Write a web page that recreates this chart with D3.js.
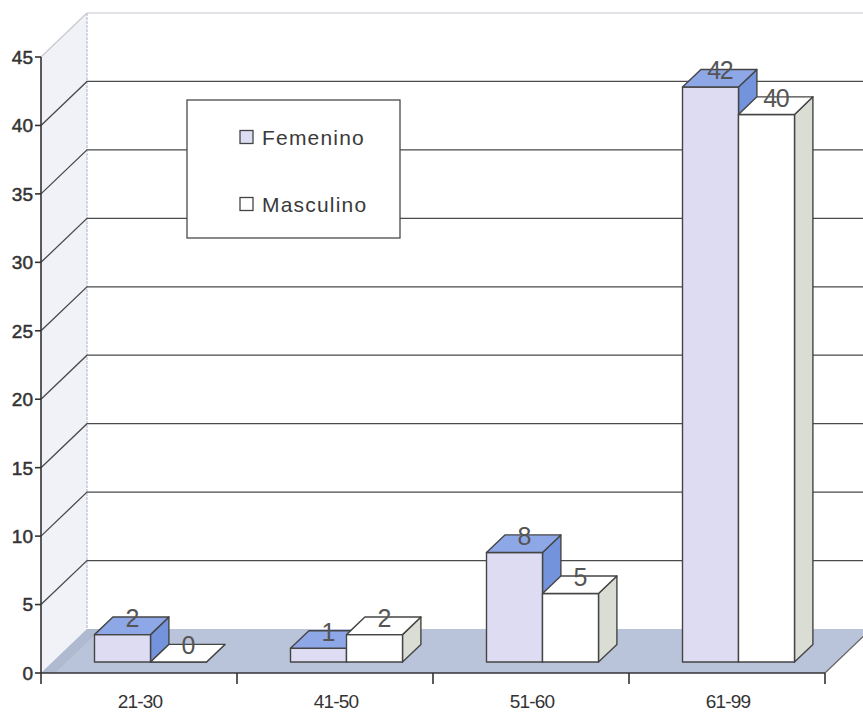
<!DOCTYPE html>
<html>
<head>
<meta charset="utf-8">
<script src="https://cdn.jsdelivr.net/npm/d3@7"></script>
<style>
  html, body { margin: 0; padding: 0; background: #fff; }
  svg { display: block; font-family: "Liberation Sans", Arial, sans-serif; }
</style>
</head>
<body>
<svg id="chart" width="863" height="712"></svg>
<script>
// Age groups and counts per sex
const categories = ["21-30", "41-50", "51-60", "61-99"];
const seriesNames = ["Femenino", "Masculino"];
const femenino = [2, 1, 8, 42];
const masculino = [0, 2, 5, 40];
const yTicks = [0, 5, 10, 15, 20, 25, 30, 35, 40, 45];

const W = 863, H = 712;
const svg = d3.select("#chart");

// Plot frame: front plane and depth offset of the 3D box
const x0 = 41, x1 = 825;
const depthX = 46, depthY = -44;
const barZ0 = 0.25, barZ1 = 0.65;

const x = d3.scaleBand().domain(categories).range([x0, x1]).paddingInner(0).paddingOuter(0);
const xs = d3.scaleBand().domain(seriesNames).range([0, x.bandwidth()]).paddingInner(0).paddingOuter(0.75);
const y = d3.scaleLinear().domain([0, 45]).range([673, 57]);

// project a front-plane point back by depth fraction z
const P = (px, py, z) => [px + z * depthX, py + z * depthY];
const poly = pts => "M" + pts.map(p => p.join(",")).join("L") + "Z";

const yMax = y(45), yZero = y(0);
const rightEdge = W + 20;
const slope = -depthY / depthX;

// back wall
svg.append("path")
  .attr("d", poly([P(x0, yMax, 1), [rightEdge, yMax + depthY], [rightEdge, yZero + depthY], P(x0, yZero, 1)]))
  .attr("fill", "#ffffff");

// left side wall
svg.append("path")
  .attr("d", poly([[x0, yMax], P(x0, yMax, 1), P(x0, yZero, 1), [x0, yZero]]))
  .attr("fill", "#f1f1f8");

// floor
svg.append("path")
  .attr("d", poly([[x0, yZero], P(x0, yZero, 1), [rightEdge, yZero + depthY], [x1 + 40, yZero - 40 * slope], [x1, yZero]]))
  .attr("fill", "#b9c3d9");
svg.append("path")
  .attr("d", poly([[x0, yZero], P(x0, yZero, 1), P(x0 + 14, yZero, 1), [x0 + 14, yZero]]))
  .attr("fill", "#a9b3c9").attr("opacity", 0.6);

// back wall left edge and top edge
svg.append("line")
  .attr("x1", x0 + depthX).attr("y1", yMax + depthY)
  .attr("x2", x0 + depthX).attr("y2", yZero + depthY)
  .attr("stroke", "#b8c0d8").attr("stroke-width", 1.2).attr("stroke-dasharray", "3,1");
svg.append("line")
  .attr("x1", x0 + depthX).attr("y1", yMax + depthY)
  .attr("x2", rightEdge).attr("y2", yMax + depthY)
  .attr("stroke", "#c8c8d0").attr("stroke-width", 1.2);
svg.append("line")
  .attr("x1", x0).attr("y1", yMax)
  .attr("x2", x0 + depthX).attr("y2", yMax + depthY)
  .attr("stroke", "#c8c8d0").attr("stroke-width", 1.2);

// gridlines: side wall diagonal + back wall horizontal
const gridVals = yTicks.filter(v => v > 0 && v < 45);
const grid = svg.append("g").attr("fill", "none").attr("stroke", "#4a4a4a").attr("stroke-width", 1.3);
gridVals.forEach(v => {
  grid.append("path")
    .attr("d", "M" + [x0, y(v)] + "L" + P(x0, y(v), 1) + "L" + [rightEdge, y(v) + depthY]);
});

// floor right edge
svg.append("line")
  .attr("x1", x1).attr("y1", yZero)
  .attr("x2", x1 + 40).attr("y2", yZero - 40 * slope)
  .attr("stroke", "#666").attr("stroke-width", 1.2);

// axes
const axis = svg.append("g").attr("stroke", "#333").attr("stroke-width", 1.6);
axis.append("line").attr("x1", x0).attr("y1", yMax).attr("x2", x0).attr("y2", yZero);
axis.append("line").attr("x1", x0).attr("y1", yZero).attr("x2", x1).attr("y2", yZero);
yTicks.forEach(v => {
  axis.append("line").attr("x1", x0 - 6).attr("x2", x0).attr("y1", y(v)).attr("y2", y(v));
});
const xTickPos = categories.map(c => x(c)).concat([x1]);
xTickPos.forEach(px => {
  axis.append("line").attr("x1", px).attr("x2", px).attr("y1", yZero).attr("y2", yZero + 11);
});

// y tick labels
svg.append("g").selectAll("text").data(yTicks).join("text")
  .attr("x", x0 - 8).attr("y", d => y(d)).attr("dy", "0.36em")
  .attr("text-anchor", "end")
  .attr("font-size", 19).attr("fill", "#333")
  .attr("stroke", "#333").attr("stroke-width", 0.5)
  .text(d => d);

// category labels
svg.append("g").selectAll("text").data(categories).join("text")
  .attr("x", d => x(d) + x.bandwidth() / 2 + 1).attr("y", 708)
  .attr("text-anchor", "middle")
  .attr("font-size", 19).attr("fill", "#333").attr("letter-spacing", -0.8)
  .text(d => d);

// legend
const lg = svg.append("g");
lg.append("rect").attr("x", 187).attr("y", 100).attr("width", 213).attr("height", 138)
  .attr("fill", "#fff").attr("stroke", "#4a4a4a").attr("stroke-width", 1.3);
const legendColors = ["#dcdcf2", "#ffffff"];
seriesNames.forEach((s, i) => {
  const cy = 137 + i * 67;
  lg.append("rect").attr("x", 240).attr("y", cy - 6.5).attr("width", 13).attr("height", 13)
    .attr("fill", legendColors[i]).attr("stroke", "#444").attr("stroke-width", 1.3);
  lg.append("text").attr("x", 262).attr("y", cy).attr("dy", "0.36em")
    .attr("font-size", 21).attr("letter-spacing", 1.2).attr("fill", "#3a3a3a").text(s);
});

// bars
const styles = {
  Femenino: { front: "#dedcf3", top: "#8ea7e6", side: "#7393dd" },
  Masculino: { front: "#ffffff", top: "#ffffff", side: "#d9ddd3" }
};
const series = { Femenino: femenino, Masculino: masculino };
const bars = svg.append("g").attr("stroke", "#454545").attr("stroke-width", 1.4).attr("stroke-linejoin", "round");
const labels = [];
categories.forEach((c, i) => {
  seriesNames.forEach(s => {
    const v = series[s][i];
    const st = styles[s];
    const left = x(c) + xs(s), right = left + xs.bandwidth();
    const bot = y(0), top = y(v);
    const fl = P(left, bot, barZ0), fr = P(right, bot, barZ0);
    const tl = P(left, top, barZ0), tr = P(right, top, barZ0);
    const btl = P(left, top, barZ1), btr = P(right, top, barZ1), bbr = P(right, bot, barZ1);
    const g = bars.append("g");
    // right side face
    g.append("path").attr("d", poly([fr, tr, btr, bbr])).attr("fill", st.side);
    // front face
    g.append("path").attr("d", poly([fl, fr, tr, tl])).attr("fill", st.front);
    // top face
    g.append("path").attr("d", poly([tl, tr, btr, btl])).attr("fill", st.top);
    const mid = P((left + right) / 2, top, (barZ0 + barZ1) / 2);
    labels.push({ v, px: mid[0], py: mid[1] });
  });
});

// value labels
svg.append("g").selectAll("text").data(labels).join("text")
  .attr("x", d => d.px).attr("y", d => d.py + 1)
  .attr("text-anchor", "middle")
  .attr("font-size", 25).attr("fill", "#555").attr("letter-spacing", -1.5)
  .text(d => d.v);
</script>
</body>
</html>
